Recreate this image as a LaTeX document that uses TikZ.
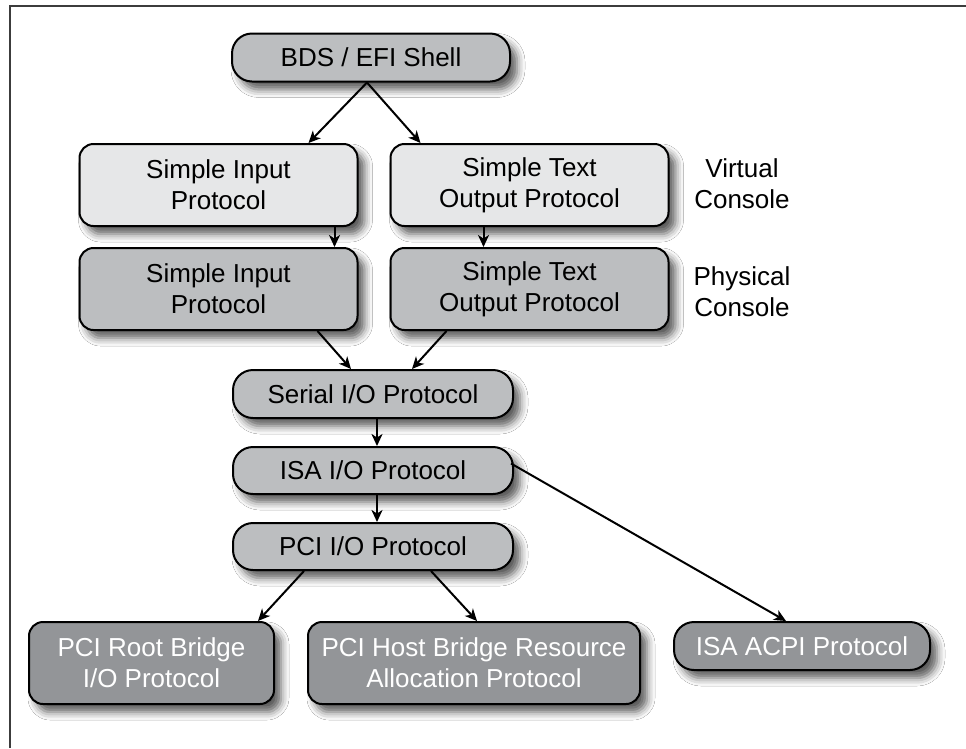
\documentclass[tikz,border=0pt]{standalone}
\usepackage{fontspec}
\setmainfont{Liberation Sans}
\usetikzlibrary{arrows.meta,shadows.blur,calc}
\definecolor{boxlight}{HTML}{E6E7E8}
\definecolor{boxmid}{HTML}{BCBEC0}
\definecolor{boxdark}{HTML}{939598}
\definecolor{framecol}{HTML}{3C3C3C}
\tikzset{
  base/.style={draw=black, line width=2pt, align=center, inner sep=0pt,
    font=\fontsize{26}{31}\selectfont,
    blur shadow={shadow xshift=7pt, shadow yshift=-8pt, shadow blur radius=8pt, shadow opacity=65}},
  pill/.style={base, fill=boxmid, rounded corners=20pt, minimum height=48pt},
  lightbox/.style={base, fill=boxlight, rounded corners=14pt, minimum width=278pt, minimum height=82pt},
  midbox/.style={base, fill=boxmid, rounded corners=14pt, minimum width=278pt, minimum height=82pt},
  darkbox/.style={base, fill=boxdark, text=white, rounded corners=14pt, minimum height=82pt},
  darkpill/.style={base, fill=boxdark, text=white, rounded corners=20pt, minimum height=48pt},
  side/.style={align=center, font=\fontsize{26}{31}\selectfont},
  arr/.style={line width=2pt, -{Stealth[length=12pt,width=11pt,inset=3.5pt]}}
}
\begin{document}
\begin{tikzpicture}[x=1pt,y=-1pt]
\useasboundingbox (0,0) rectangle (966,748);
\fill[white] (0,0) rectangle (966,748);
\draw[framecol, line width=2pt] (10,748) -- (10,6) -- (966,6);

\node[pill, minimum width=278pt] (bds) at (371,57.5) {BDS / EFI Shell};
\node[lightbox] (sil) at (218.5,185) {Simple Input\\Protocol};
\node[lightbox] (stl) at (529.5,185) {Simple Text\\Output Protocol};
\node[midbox] (sip) at (218.5,289) {Simple Input\\Protocol};
\node[midbox] (stp) at (529.5,289) {Simple Text\\Output Protocol};
\node[side] (virt) at (742,184) {Virtual\\Console};
\node[side] (phys) at (742,292) {Physical\\Console};
\node[pill, minimum width=280pt] (serial) at (373,394) {Serial I/O Protocol};
\node[pill, minimum width=280pt, minimum height=47pt] (isa) at (373,470.5) {ISA I/O Protocol};
\node[pill, minimum width=280pt, minimum height=47pt] (pci) at (373,546.5) {PCI I/O Protocol};
\node[darkbox, minimum width=245pt] (root) at (151.5,663) {PCI Root Bridge\\I/O Protocol};
\node[darkbox, minimum width=332pt] (host) at (474,663) {PCI Host Bridge Resource\\Allocation Protocol};
\node[darkpill, minimum width=256pt] (acpi) at (802,646) {ISA ACPI Protocol};

\draw[arr] ([xshift=-4pt]bds.south) -- ([xshift=-50pt]sil.north east);
\draw[arr] ([xshift=-4pt]bds.south) -- ([xshift=31pt]stl.north west);
\draw[arr] ([xshift=-24pt]sil.south east) -- ([xshift=-24pt]sip.north east);
\draw[arr] ([xshift=94pt]stl.south west) -- ([xshift=94pt]stp.north west);
\draw[arr] ([xshift=-41pt]sip.south east) -- ([xshift=119pt]serial.north west);
\draw[arr] ([xshift=57pt]stp.south west) -- ([xshift=180pt]serial.north west);
\draw[arr] ([xshift=4pt]serial.south) -- ([xshift=4pt]isa.north);
\draw[arr] ([xshift=4pt]isa.south) -- ([xshift=4pt]pci.north);
\draw[arr] ([xshift=-3pt,yshift=7pt]isa.east) -- ([xshift=113pt]acpi.north west);
\draw[arr] ([xshift=72pt]pci.south west) -- ([xshift=-17pt]root.north east);
\draw[arr] ([xshift=199pt]pci.south west) -- ([xshift=170pt]host.north west);
\end{tikzpicture}
\end{document}
